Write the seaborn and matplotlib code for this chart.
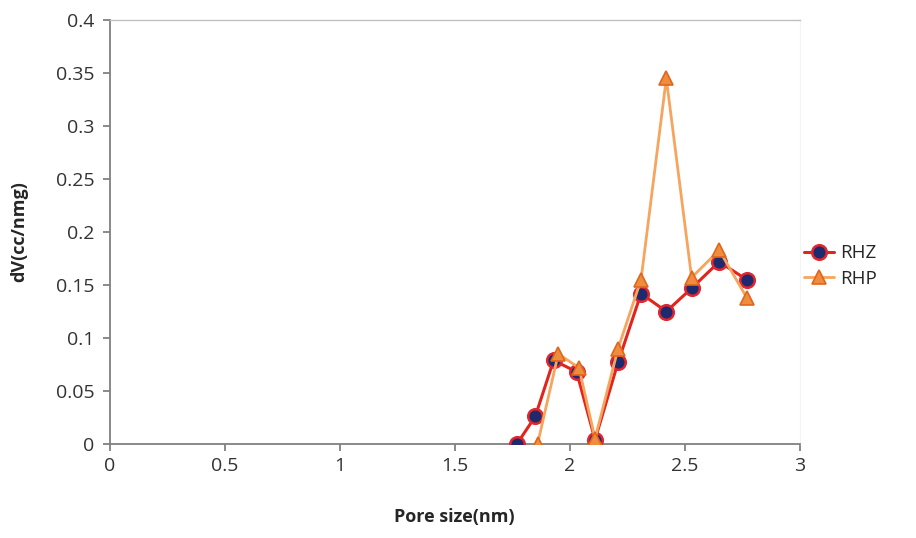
import matplotlib
matplotlib.use("Agg")
import matplotlib.pyplot as plt
import seaborn as sns
import pandas as pd

# RHZ series
rhz_x = [1.77, 1.85, 1.93, 2.03, 2.11, 2.21, 2.31, 2.42, 2.53, 2.65, 2.77]
rhz_y = [0.000, 0.026, 0.079, 0.068, 0.004, 0.077, 0.142, 0.125, 0.147, 0.172, 0.155]
# RHP series
rhp_x = [1.86, 1.95, 2.04, 2.11, 2.21, 2.31, 2.42, 2.53, 2.65, 2.77]
rhp_y = [0.000, 0.085, 0.072, 0.005, 0.090, 0.155, 0.345, 0.157, 0.183, 0.138]

x_ticks = [0, 0.5, 1, 1.5, 2, 2.5, 3]
y_ticks = [0, 0.05, 0.1, 0.15, 0.2, 0.25, 0.3, 0.35, 0.4]

sns.set_style("white")
plt.rcParams['font.family'] = ['Open Sans', 'DejaVu Sans']

fig = plt.figure(figsize=(9.16, 5.38), dpi=100)
ax = fig.add_axes([0.120, 0.1747, 0.753, 0.788])

df_z = pd.DataFrame({"x": rhz_x, "y": rhz_y})
df_p = pd.DataFrame({"x": rhp_x, "y": rhp_y})

sns.lineplot(data=df_z, x="x", y="y", ax=ax, color="#e3241c", lw=2.2,
             marker="o", markersize=10.5, markerfacecolor="#1d2a6e",
             markeredgecolor="#e0262e", markeredgewidth=1.8, label="RHZ",
             zorder=3)
sns.lineplot(data=df_p, x="x", y="y", ax=ax, color="#f6a55e", lw=2.0,
             marker="^", markersize=10.5, markerfacecolor="#f08c3e",
             markeredgecolor="#e0661c", markeredgewidth=1.2, label="RHP",
             zorder=4)

ax.set_xlim(0, 3)
ax.set_ylim(0, 0.4)
ax.set_xticks(x_ticks)
ax.set_xticklabels([f"{t:g}" for t in x_ticks])
ax.set_yticks(y_ticks)
ax.set_yticklabels([f"{t:g}" for t in y_ticks])

for s in ["left", "bottom"]:
    ax.spines[s].set_color("#808080")
    ax.spines[s].set_linewidth(1.3)
ax.spines["top"].set_color("#c0c0c0")
ax.spines["top"].set_linewidth(1.0)
ax.spines["right"].set_color("#f4f4f4")
ax.spines["right"].set_linewidth(0.8)

ax.tick_params(axis="both", direction="out", length=5, width=1.3,
               color="#808080", labelsize=14, labelcolor="#333333")
ax.tick_params(axis="x", bottom=True, pad=4)
ax.tick_params(axis="y", left=True, pad=6)

ax.set_xlabel("Pore size(nm)", fontsize=13, fontweight="bold", labelpad=24)
ax.set_ylabel("dV(cc/nmg)", fontsize=13, fontweight="bold", labelpad=20)

leg = ax.legend(loc="center left", bbox_to_anchor=(0.99, 0.42), frameon=False,
                fontsize=13.5, handlelength=1.6, handletextpad=0.3,
                labelspacing=0.4, borderaxespad=0.2)

fig.savefig("out.png", dpi=100)
